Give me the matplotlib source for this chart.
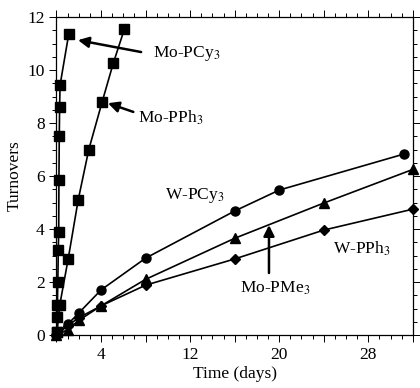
import matplotlib
matplotlib.use("Agg")
import matplotlib.pyplot as plt
from matplotlib.ticker import MultipleLocator, FuncFormatter

plt.rcParams['font.family'] = ['Liberation Serif']
plt.rcParams['mathtext.fontset'] = 'stix'

# Data (time in days, turnovers)
mo_pcy3_t = [0.02, 0.05, 0.08, 0.12, 0.16, 0.2, 0.22, 0.25, 0.28, 0.32, 1.1]
mo_pcy3_y = [0.1, 0.68, 1.13, 2.0, 3.2, 3.9, 5.85, 7.5, 8.6, 9.43, 11.36]

mo_pph3_t = [0.05, 0.3, 1.05, 1.95, 2.9, 4.1, 5.1, 6.1]
mo_pph3_y = [0.1, 1.15, 2.87, 5.1, 7.0, 8.8, 10.26, 11.55]

w_pcy3_t = [0, 1, 2, 4, 8, 16, 20, 31.2]
w_pcy3_y = [0, 0.4, 0.83, 1.7, 2.9, 4.68, 5.47, 6.83]

mo_pme3_t = [0, 1, 2, 4, 8, 16, 24, 32]
mo_pme3_y = [0, 0.2, 0.55, 1.1, 2.1, 3.65, 4.98, 6.25]

w_pph3_t = [0, 1, 2, 4, 8, 16, 24, 32]
w_pph3_y = [0, 0.35, 0.65, 1.1, 1.88, 2.87, 3.96, 4.75]

xtick_labels = [4, 12, 20, 28]

fig = plt.figure(figsize=(4.2, 3.88), dpi=100)
ax = fig.add_axes([0.1345, 0.1366, 0.983 - 0.1345, 0.956 - 0.1366])

kw = dict(color='black', lw=1.2, clip_on=False, zorder=3)
ax.plot(mo_pcy3_t, mo_pcy3_y, marker='s', ms=6.5, **kw)
ax.plot(mo_pph3_t, mo_pph3_y, marker='s', ms=6.5, **kw)
ax.plot(w_pcy3_t, w_pcy3_y, marker='o', ms=6.5, **kw)
ax.plot(mo_pme3_t, mo_pme3_y, marker='^', ms=6.5, **kw)
ax.plot(w_pph3_t, w_pph3_y, marker='D', ms=5, **kw)

ax.set_xlim(0, 32)
ax.set_ylim(0, 12)

ax.xaxis.set_major_locator(MultipleLocator(4))
ax.xaxis.set_minor_locator(MultipleLocator(1))
ax.xaxis.set_major_formatter(FuncFormatter(
    lambda v, p: str(int(round(v))) if int(round(v)) in xtick_labels else ''))
ax.yaxis.set_major_locator(MultipleLocator(2))
ax.yaxis.set_minor_locator(MultipleLocator(0.5))

ax.tick_params(which='both', direction='out', top=True, right=True,
               labelsize=12.5, width=0.7)
ax.tick_params(which='major', length=5)
ax.tick_params(which='minor', length=3)
for s in ax.spines.values():
    s.set_linewidth(0.9)

ax.set_xlabel('Time (days)', fontsize=12.5, labelpad=2)
ax.set_ylabel('Turnovers', fontsize=12.5, labelpad=3)

afs = 12.5
arrow = dict(arrowstyle='-|>', lw=1.8, color='black', mutation_scale=16,
             shrinkA=0, shrinkB=0)
ax.annotate('', xy=(1.93, 11.13), xytext=(7.6, 10.68), arrowprops=arrow)
ax.text(8.66, 10.62, 'Mo-PCy$_3$', fontsize=afs, va='center', ha='left')

ax.annotate('', xy=(4.62, 8.75), xytext=(6.9, 8.42), arrowprops=arrow)
ax.text(7.3, 8.2, 'Mo-PPh$_3$', fontsize=afs, va='center', ha='left')

ax.text(9.74, 5.25, 'W-PCy$_3$', fontsize=afs, va='center', ha='left')
ax.text(24.8, 3.25, 'W-PPh$_3$', fontsize=afs, va='center', ha='left')

ax.annotate('', xy=(19.08, 4.15), xytext=(19.08, 2.34), arrowprops=arrow)
ax.text(16.47, 1.78, 'Mo-PMe$_3$', fontsize=afs, va='center', ha='left')

fig.savefig('out.png', dpi=100)
